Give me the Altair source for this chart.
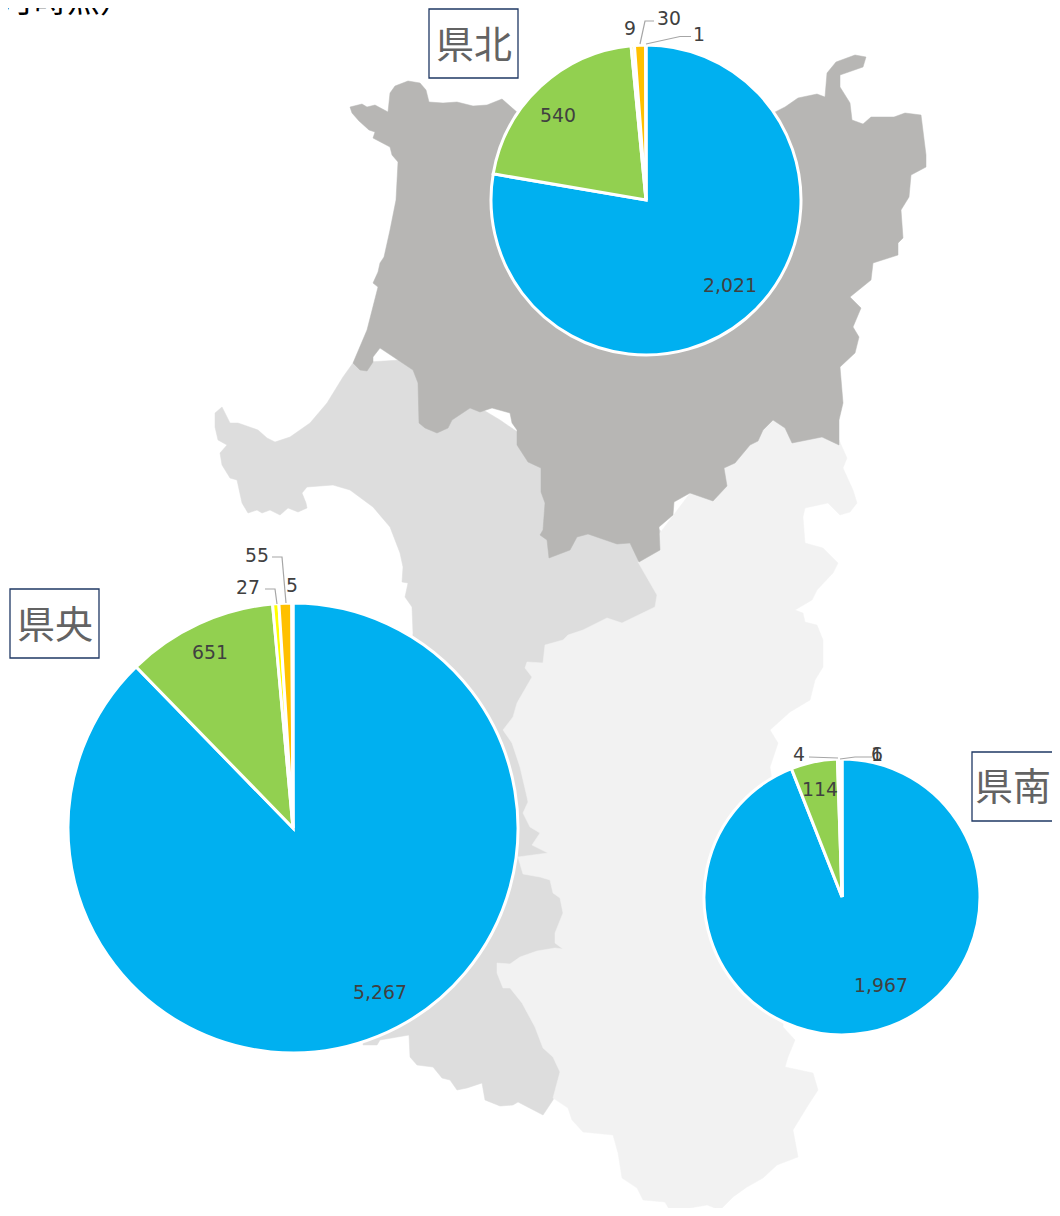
import altair as alt
import pandas as pd

# ---- map outlines ----
NORTH = [(350,107),(352,113),(359,121),(369,130),(375,132),(373,138),(390,147),(392,155),(398,162),(396,200),
 (390,230),(384,257),(380,263),(378,272),(373,283),(378,287),(367,330),(353,363),(360,370),(367,371),(373,362),
 (373,357),(380,348),(413,370),(418,383),(419,423),(425,428),(437,433),(448,428),(452,420),(470,408),(480,412),
 (492,408),(510,413),(512,423),(517,430),(517,445),(528,462),(541,468),(541,492),(545,503),(543,530),(540,535),
 (547,540),(549,558),(570,550),(577,537),(588,534),(617,544),(630,543),(639,562),(660,550),(659,527),(673,515),
 (674,502),(690,493),(713,501),(727,486),(724,468),(735,463),(750,445),(758,441),(763,430),(773,420),(785,428),
 (792,443),(822,437),(839,445),(839,420),(843,403),(840,367),(855,353),(859,337),(853,327),(861,308),(850,297),
 (871,280),(873,263),(898,255),(898,243),(903,238),(901,210),(909,197),(911,175),(926,167),(926,155),(921,115),
 (905,113),(894,117),(871,117),(863,124),(852,120),(850,103),(840,87),(840,75),(863,67),(866,57),(855,55),(836,62),
 (827,73),(825,97),(817,94),(798,98),(785,107),(700,150),(560,150),(502,99),(487,105),(473,106),(457,102),(443,103),
 (429,102),(426,90),(420,83),(408,81),(395,86),(390,93),(388,112),(375,105),(367,107),(362,104)]
CENTER = [(353,363),(343,377),(327,403),(310,423),(290,437),(275,442),(267,438),(258,430),(238,423),(230,423),
 (222,407),(215,413),(215,427),(218,440),(227,445),(220,453),(222,465),(230,478),(237,480),(242,503),(248,513),
 (257,510),(262,513),(270,510),(280,515),(288,508),(298,512),(307,508),(306,503),(302,493),(307,487),(333,485),
 (350,490),(373,507),(390,527),(400,553),(403,567),(402,582),(408,583),(405,597),(412,607),(413,633),(400,800),
 (363,1045),(377,1045),(380,1040),(409,1035),(410,1057),(417,1065),(433,1067),(442,1078),(450,1080),(457,1090),
 (467,1088),(482,1083),(485,1100),(500,1106),(513,1105),(518,1102),(543,1115),(553,1100),(600,1000),(600,800),
 (680,600),(660,530),(500,420),(400,360)]
SOUTH = [(638,562),(700,480),(770,415),(839,440),(847,458),(843,468),(853,490),(857,503),(850,512),(840,515),
 (828,503),(805,508),(803,517),(805,543),(823,548),(838,563),(833,573),(817,590),(812,600),(795,610),(803,613),
 (805,622),(817,625),(823,640),(823,667),(815,680),(810,700),(790,712),(770,730),(778,743),(770,767),(790,900),
 (783,1027),(795,1040),(788,1057),(785,1067),(813,1073),(818,1090),(807,1107),(793,1130),(798,1157),(777,1165),
 (763,1178),(747,1187),(733,1197),(720,1210),(707,1205),(690,1208),(673,1216),(665,1202),(643,1200),(637,1188),
 (622,1178),(618,1153),(613,1135),(583,1132),(572,1120),(568,1108),(553,1098),(560,1072),(553,1057),(543,1048),
 (535,1027),(522,1003),(510,988),(503,988),(497,973),(497,963),(510,964),(520,957),(537,951),(555,948),(563,949),
 (555,943),(555,933),(563,913),(560,898),(553,893),(550,880),(540,877),(523,874),(518,857),(548,853),(532,845),
 (540,833),(530,827),(523,813),(528,802),(527,797),(520,767),(512,743),(503,730),(513,717),(517,703),(532,677),
 (525,668),(527,662),(543,663),(545,645),(563,640),(568,635),(583,630),(607,618),(622,623),(655,607),(657,595)]
MAP_COLORS = ["#DDDDDD", "#F2F2F2", "#B7B6B4"]

# ---- pies ----
SERIES = ["系列1", "系列2", "系列3", "系列4", "系列5"]
SERIES_COLORS = ["#00B0F0", "#92D050", "#FFFF00", "#FFC000", "#FF0000"]
PIE_NAMES = ["県北", "県央", "県南"]
PIE_VALUES = [[2021, 540, 9, 30, 1], [5267, 651, 27, 55, 5], [1967, 114, 4, 6, 1]]
PIE_CX = [646, 293, 842]
PIE_CY = [200, 828, 897]
PIE_R = [155, 225, 138]

LABEL_TEXT = ["2,021","540","9","30","1","5,267","651","27","55","5","1,967","114","4","6","1"]
LABEL_X = [730,558,630,669,699,380,210,248,257,292,881,820,799,877,877]
LABEL_Y = [286,116,29,19,35,993,653,588,556,586,986,790,755,755,755]

LEADERS = [
 [(640,44),(645,21),(654,21)],
 [(646,44),(680,36.5),(691,36.5)],
 [(265,589),(275,589),(277,604)],
 [(272,557),(282,557),(286,603)],
 [(809,757),(838,758)],
 [(840,759),(855,757),(872,757)],
]

BOX_X = [429, 10, 972]
BOX_X2 = [518, 99, 1062]
BOX_Y = [9, 589, 752]
BOX_Y2 = [78, 658, 821]
BOX_TX = [474, 55, 1013]
BOX_TY = [47, 627, 789]

TITLE_TEXT = ["月時点）"]

W, H = 1052, 1208
SX = alt.Scale(domain=[8, W], range=[0, W - 8], nice=False, zero=False)
SY = alt.Scale(domain=[8, H], range=[0, H - 8], nice=False, zero=False)
xq = lambda f: alt.X(f, type="quantitative", scale=SX, axis=None)
yq = lambda f: alt.Y(f, type="quantitative", scale=SY, axis=None)

layers = []
for poly, col in zip([CENTER, SOUTH, NORTH], MAP_COLORS):
    ring = [list(p) for p in poly] + [list(poly[0])]
    feat = {"type": "Feature", "properties": {}, "geometry": {"type": "Polygon", "coordinates": [ring]}}
    layers.append(alt.Chart(alt.Data(values=[feat])).mark_geoshape(fill=col, stroke=col, strokeWidth=0.5)
                  .project(type="identity", scale=1, translate=[-8, -8]))

for name, vals, cx, cy, r in zip(PIE_NAMES, PIE_VALUES, PIE_CX, PIE_CY, PIE_R):
    df = pd.DataFrame({"series": SERIES, "value": vals, "i": range(5), "cx": cx, "cy": cy})
    layers.append(
        alt.Chart(df).mark_arc(radius=r, stroke="white", strokeWidth=3).encode(
            x=xq("cx"), y=yq("cy"),
            theta=alt.Theta("value:Q", stack="normalize",
                            scale=alt.Scale(domain=[0, 1], range=[0, 6.283185307])),
            color=alt.Color("series:N", scale=alt.Scale(domain=SERIES, range=SERIES_COLORS), legend=None),
            order=alt.Order("i:Q"),
        )
    )

rows = [{"id": k, "i": j, "x": p[0], "y": p[1]} for k, line in enumerate(LEADERS) for j, p in enumerate(line)]
layers.append(alt.Chart(pd.DataFrame(rows)).mark_line(color="#A6A6A6", strokeWidth=1.2).encode(
    x=xq("x"), y=yq("y"), detail="id:N", order="i:Q"))

layers.append(alt.Chart(pd.DataFrame({"t": LABEL_TEXT, "x": LABEL_X, "y": LABEL_Y})).mark_text(
    font="DejaVu Sans", fontSize=18.8, color="#404040", align="center", baseline="middle").encode(
    x=xq("x"), y=yq("y"), text="t:N"))

boxes = pd.DataFrame({"n": PIE_NAMES, "x": BOX_X, "x2": BOX_X2, "y": BOX_Y, "y2": BOX_Y2, "tx": BOX_TX, "ty": BOX_TY})
layers.append(alt.Chart(boxes).mark_rect(fill="white", stroke="#1F3864", strokeWidth=1.3).encode(
    x=xq("x"), x2="x2:Q", y=yq("y"), y2="y2:Q"))
layers.append(alt.Chart(boxes).mark_text(
    font="Noto Sans CJK JP", fontSize=38, color="#636363", align="center", baseline="middle").encode(
    x=xq("tx"), y=yq("ty"), text="n:N"))

layers.append(alt.Chart(pd.DataFrame({"t": TITLE_TEXT, "x": [1], "y": [12]})).mark_text(
    font="Noto Sans CJK JP", fontSize=33, color="#000000", align="left", baseline="alphabetic").encode(
    x=xq("x"), y=yq("y"), text="t:N"))

chart = alt.layer(*layers).properties(
    width=W - 8, height=H - 8, padding=0,
    autosize=alt.AutoSizeParams(type="none"),
).configure_view(stroke=None)

chart.save("out.html", embed_options={"renderer": "svg", "actions": False})
